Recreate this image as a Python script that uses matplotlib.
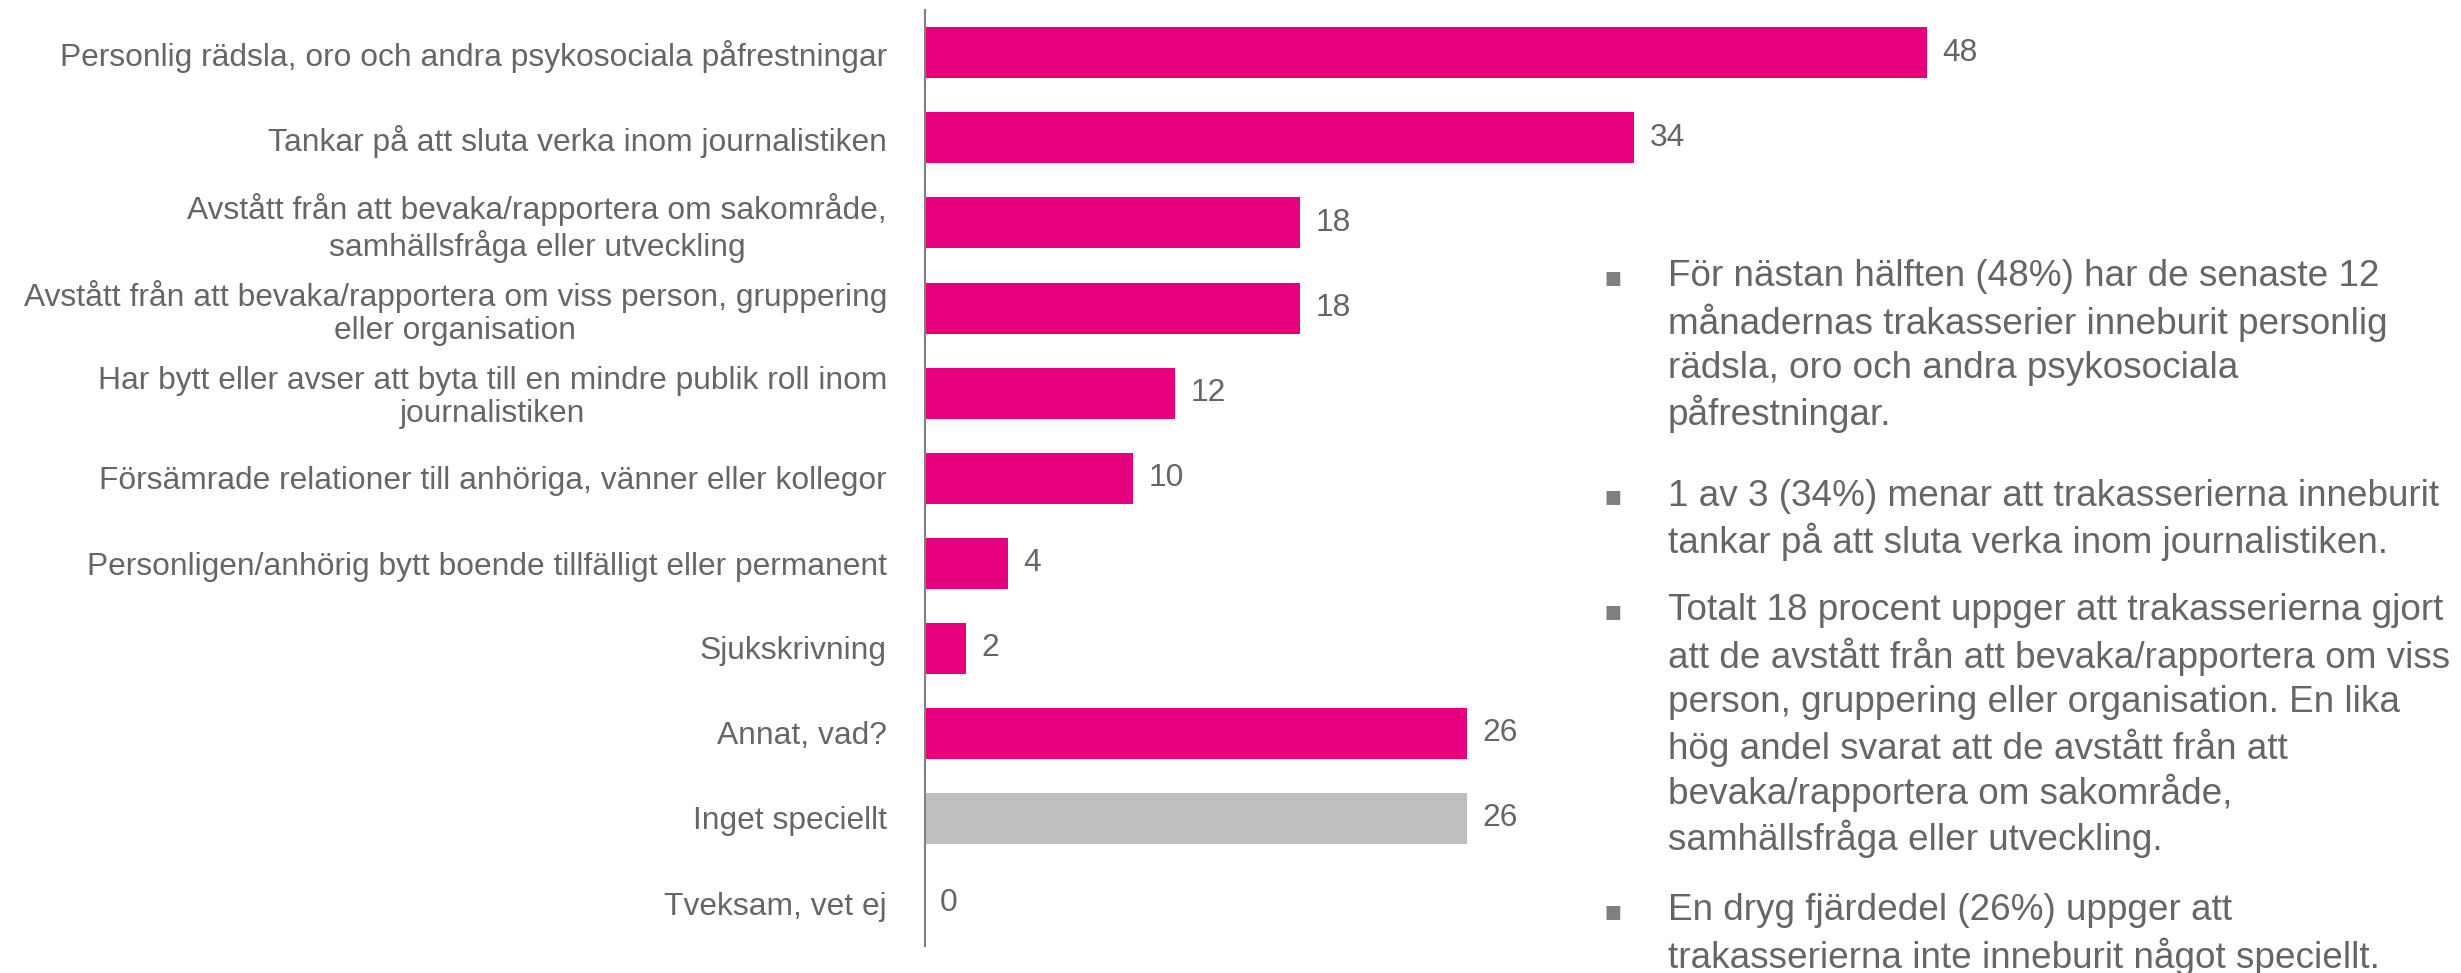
import matplotlib
matplotlib.use("Agg")
import matplotlib.pyplot as plt

plt.rcParams['font.family'] = ['Liberation Sans', 'DejaVu Sans']

categories = [
    "Personlig rädsla, oro och andra psykosociala påfrestningar",
    "Tankar på att sluta verka inom journalistiken",
    "Avstått från att bevaka/rapportera om sakområde,\nsamhällsfråga eller utveckling",
    "Avstått från att bevaka/rapportera om viss person, gruppering\neller organisation",
    "Har bytt eller avser att byta till en mindre publik roll inom\njournalistiken",
    "Försämrade relationer till anhöriga, vänner eller kollegor",
    "Personligen/anhörig bytt boende tillfälligt eller permanent",
    "Sjukskrivning",
    "Annat, vad?",
    "Inget speciellt",
    "Tveksam, vet ej",
]
values = [48, 34, 18, 18, 12, 10, 4, 2, 26, 26, 0]
bar_colors = ["#E6007E"] * 9 + ["#BFBFBF", "#BFBFBF"]

paragraphs = [
    "För nästan hälften (48%) har de senaste 12\nmånadernas trakasserier inneburit personlig\nrädsla, oro och andra psykosociala\npåfrestningar.",
    "1 av 3 (34%) menar att trakasserierna inneburit\ntankar på att sluta verka inom journalistiken.",
    "Totalt 18 procent uppger att trakasserierna gjort\natt de avstått från att bevaka/rapportera om viss\nperson, gruppering eller organisation. En lika\nhög andel svarat att de avstått från att\nbevaka/rapportera om sakområde,\nsamhällsfråga eller utveckling.",
    "En dryg fjärdedel (26%) uppger att\ntrakasserierna inte inneburit något speciellt.",
]
para_top_px = [277, 496, 611, 911]

TEXT = "#666666"
W, H = 2461, 973
fig = plt.figure(figsize=(W / 100, H / 100), dpi=100)
ax = fig.add_axes([924.5 / W, 1 - 945.5 / H, (52 * 20.88) / W, 935 / H])

y = list(range(len(values)))
ax.barh(y, values, height=0.6, color=bar_colors)
ax.set_ylim(len(values) - 0.5, -0.5)
ax.set_xlim(0, 52)

for yi, v in zip(y, values):
    ax.annotate(str(v), (v, yi), xytext=(11, 0), textcoords="offset points",
                ha="left", va="center", fontsize=22.9, color=TEXT)

ax.set_yticks(y)
ax.set_yticklabels(categories, fontsize=22.9, color=TEXT, linespacing=1.12)
for lbl in ax.get_yticklabels():
    lbl.set_multialignment("center")
ax.tick_params(axis="y", length=0, pad=27)
ax.set_xticks([])
for s in ["top", "right", "bottom"]:
    ax.spines[s].set_visible(False)
ax.spines["left"].set_color("#808080")
ax.spines["left"].set_linewidth(1.5)

line_px = 45.5
for para, top in zip(paragraphs, para_top_px):
    lines = para.split("\n")
    fig.text(1604 / W, 1 - top / H, "\u25aa", ha="left", va="center",
             fontsize=20, color="#7F7F7F", family=["DejaVu Sans"])
    for i, ln in enumerate(lines):
        fig.text(1668 / W, 1 - (top + i * line_px) / H, ln, ha="left", va="center",
                 fontsize=26.6, color=TEXT)

fig.savefig("out.png", dpi=100)
